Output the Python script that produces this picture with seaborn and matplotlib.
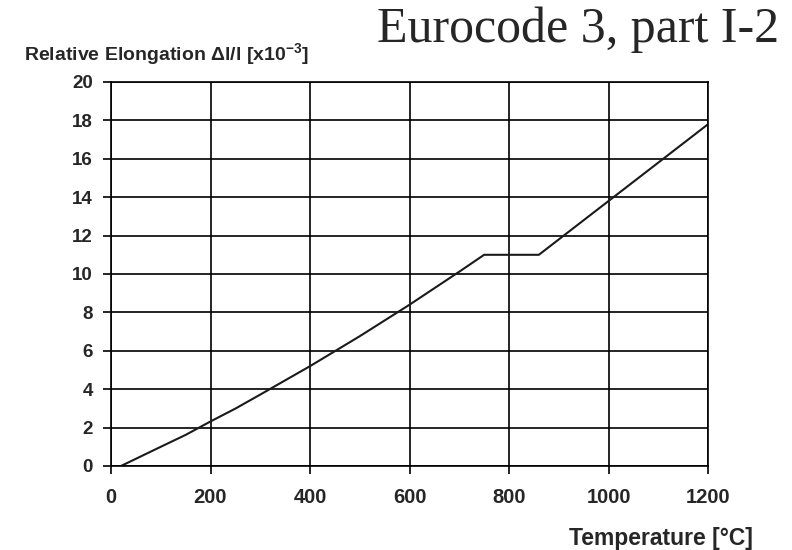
import matplotlib
matplotlib.use("Agg")
import matplotlib.pyplot as plt
import seaborn as sns
import pandas as pd

# Values (elongation in 1e-3)
temperature = [20, 100, 150, 200, 250, 300, 400, 500, 600, 700, 750, 860, 900, 1000, 1050, 1100, 1200]
elongation = [0.0, 1.0, 1.62, 2.32, 2.99, 3.72, 5.2, 6.76, 8.4, 10.12, 11.0, 11.0, 11.8, 13.8, 14.8, 15.8, 17.8]
x_ticks = [0, 200, 400, 600, 800, 1000, 1200]
y_ticks = [0, 2, 4, 6, 8, 10, 12, 14, 16, 18, 20]

title_text = "Eurocode 3, part I-2"
y_label = r"Relative Elongation Δl/l [x10$^{-3}$]"
x_label = "Temperature [°C]"

sns.set_style("white")
plt.rcParams["font.family"] = ["Liberation Sans", "DejaVu Sans"]
plt.rcParams["mathtext.fontset"] = "custom"
plt.rcParams["mathtext.rm"] = "Liberation Sans:bold"
plt.rcParams["mathtext.default"] = "rm"

df = pd.DataFrame({"T": temperature, "E": elongation})

fig = plt.figure(figsize=(7.92, 5.5), dpi=100)
ax = fig.add_axes([111 / 792, 1 - 466 / 550, (708 - 111) / 792, (466 - 82) / 550])

sns.lineplot(data=df, x="T", y="E", ax=ax, color="#1a1a1a", linewidth=1.5)

ax.set_xlim(0, 1200)
ax.set_ylim(0, 20)
ax.set_xticks(x_ticks)
ax.set_yticks(y_ticks)
ax.set_xlabel("")
ax.set_ylabel("")
ax.grid(True, color="black", linewidth=1.2)
ax.set_axisbelow(True)
for s in ax.spines.values():
    s.set_color("black")
    s.set_linewidth(1.2)
ax.tick_params(axis="both", which="major", direction="out", length=6, width=1.2,
               color="black", bottom=True, left=True, top=False, right=False)
ax.tick_params(axis="y", labelsize=13.5, pad=7)
ax.tick_params(axis="x", labelsize=14.5, pad=10)
for lab in ax.get_xticklabels() + ax.get_yticklabels():
    lab.set_fontweight("bold")

fig.text(24 / 792, 1 - 60 / 550, y_label, ha="left", va="baseline",
         fontsize=14, fontweight="bold")
fig.text(753 / 792, 1 - 545 / 550, x_label, ha="right", va="baseline",
         fontsize=16.5, fontweight="bold")
fig.text(779 / 792, 1 - 42 / 550, title_text, ha="right", va="baseline",
         fontsize=36, family=["Liberation Serif", "DejaVu Serif"])

fig.savefig("out.png", dpi=100)
